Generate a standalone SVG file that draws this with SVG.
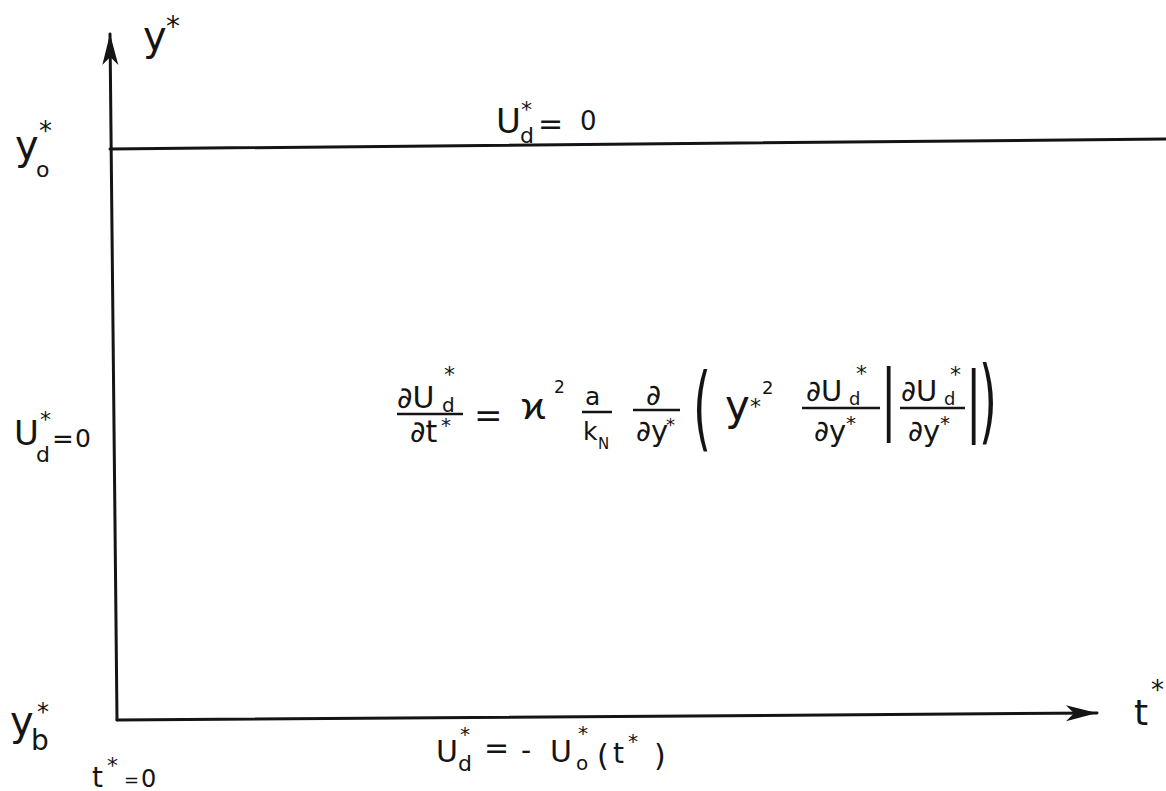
<svg xmlns="http://www.w3.org/2000/svg" width="1166" height="791" viewBox="0 0 1166 791">
<style>
.t{font-family:"DejaVu Sans","Liberation Sans",sans-serif;fill:#141414}
.ln{stroke:#141414;stroke-width:3;fill:none;stroke-linecap:round}
.bar{stroke:#141414;stroke-width:2.5;fill:none}
</style>
<defs>
<marker id="ah" markerUnits="userSpaceOnUse" markerWidth="40" markerHeight="24" viewBox="-34 -12 40 24" refX="0" refY="0" orient="auto">
<path d="M0,0 L-31,-8 L-23,0 L-31,8 Z" fill="#141414"/>
</marker>
</defs>
<rect width="1166" height="791" fill="#fff"/>
<g id="connectors">
<line class="ln" x1="117" y1="720" x2="110" y2="34" marker-end="url(#ah)"/>
<line class="ln" x1="117" y1="720" x2="1097" y2="713" marker-end="url(#ah)"/>
<line class="ln" x1="110" y1="149" x2="1166" y2="139"/>
</g>
<g id="label-y-axis">
<text class="t" x="143" y="50" font-size="40">y</text>
<text class="t" x="166" y="36" font-size="28">*</text>
</g>
<g id="label-y0">
<text class="t" x="15" y="159" font-size="40">y</text>
<text class="t" x="36" y="177" font-size="22">o</text>
<text class="t" x="39" y="140" font-size="26">*</text>
</g>
<g id="label-top">
<text class="t" x="496" y="133" font-size="34">U</text>
<text class="t" x="520" y="143" font-size="22">d</text>
<text class="t" x="521" y="117" font-size="22">*</text>
<text class="t" x="538" y="134" font-size="30">=</text>
<text class="t" x="580" y="130" font-size="26">0</text>
</g>
<g id="label-left">
<text class="t" x="14" y="445" font-size="34">U</text>
<text class="t" x="36" y="462" font-size="22">d</text>
<text class="t" x="40" y="427" font-size="22">*</text>
<text class="t" x="52" y="448" font-size="26">=</text>
<text class="t" x="75" y="447" font-size="25">0</text>
</g>
<g id="label-yb">
<text class="t" x="10" y="735" font-size="40">y</text>
<text class="t" x="31" y="750" font-size="28">b</text>
<text class="t" x="37" y="720" font-size="24">*</text>
</g>
<g id="label-t0">
<text class="t" x="92" y="787" font-size="28">t</text>
<text class="t" x="107" y="773" font-size="22">*</text>
<text class="t" x="124" y="786" font-size="18">=</text>
<text class="t" x="141" y="787" font-size="24">0</text>
</g>
<g id="label-bottom">
<text class="t" x="436" y="762" font-size="30">U</text>
<text class="t" x="458" y="771" font-size="22">d</text>
<text class="t" x="460" y="741" font-size="20">*</text>
<text class="t" x="484" y="758" font-size="30">=</text>
<text class="t" x="521" y="760" font-size="28">-</text>
<text class="t" x="550" y="762" font-size="30">U</text>
<text class="t" x="576" y="770" font-size="20">o</text>
<text class="t" x="578" y="740" font-size="20">*</text>
<text class="t" x="597" y="766" font-size="30">(</text>
<text class="t" x="613" y="763" font-size="28">t</text>
<text class="t" x="628" y="748" font-size="20">*</text>
<text class="t" x="654" y="766" font-size="30">)</text>
</g>
<g id="label-t-axis">
<text class="t" x="1134" y="725" font-size="36">t</text>
<text class="t" x="1151" y="699" font-size="26">*</text>
</g>
<g id="equation">
<text class="t" x="397" y="408" font-size="30">∂U</text>
<text class="t" x="442" y="412" font-size="20">d</text>
<text class="t" x="444" y="382" font-size="22">*</text>
<line class="bar" x1="397" y1="414" x2="463" y2="414"/>
<text class="t" x="410" y="442" font-size="30">∂t</text>
<text class="t" x="441" y="432" font-size="20">*</text>
<text class="t" x="474" y="427" font-size="34">=</text>
<text class="t" x="521" y="419" font-size="36" style="font-family:'Noto Sans','DejaVu Sans',sans-serif">ϰ</text>
<text class="t" x="554" y="393" font-size="17">2</text>
<text class="t" x="585" y="405" font-size="25">a</text>
<line class="bar" x1="582" y1="412" x2="612" y2="412"/>
<text class="t" x="583" y="440" font-size="25">k</text>
<text class="t" x="598" y="449" font-size="15">N</text>
<text class="t" x="646" y="405" font-size="29">∂</text>
<line class="bar" x1="633" y1="410" x2="680" y2="410"/>
<text class="t" x="636" y="441" font-size="29">∂y</text>
<text class="t" x="666" y="431" font-size="18">*</text>
<text class="t" transform="translate(693,440) scale(0.5,1)" font-size="92">(</text>
<text class="t" x="725" y="420" font-size="42">y</text>
<text class="t" x="750" y="414" font-size="22">*</text>
<text class="t" x="762" y="394" font-size="18">2</text>
<text class="t" x="806" y="401" font-size="29">∂U</text>
<text class="t" x="849" y="405" font-size="18">d</text>
<text class="t" x="856" y="381" font-size="22">*</text>
<line class="bar" x1="802" y1="408" x2="880" y2="408"/>
<text class="t" x="814" y="441" font-size="29">∂y</text>
<text class="t" x="846" y="430" font-size="20">*</text>
<text class="t" transform="translate(881,424) scale(0.6,1)" font-size="76">|</text>
<text class="t" x="901" y="401" font-size="29">∂U</text>
<text class="t" x="944" y="405" font-size="18">d</text>
<text class="t" x="950" y="382" font-size="22">*</text>
<line class="bar" x1="900" y1="408" x2="965" y2="408"/>
<text class="t" x="908" y="441" font-size="29">∂y</text>
<text class="t" x="940" y="430" font-size="20">*</text>
<text class="t" transform="translate(966,426) scale(0.6,1)" font-size="76">|</text>
<text class="t" transform="translate(979,433) scale(0.5,1)" font-size="92">)</text>
</g>
</svg>
